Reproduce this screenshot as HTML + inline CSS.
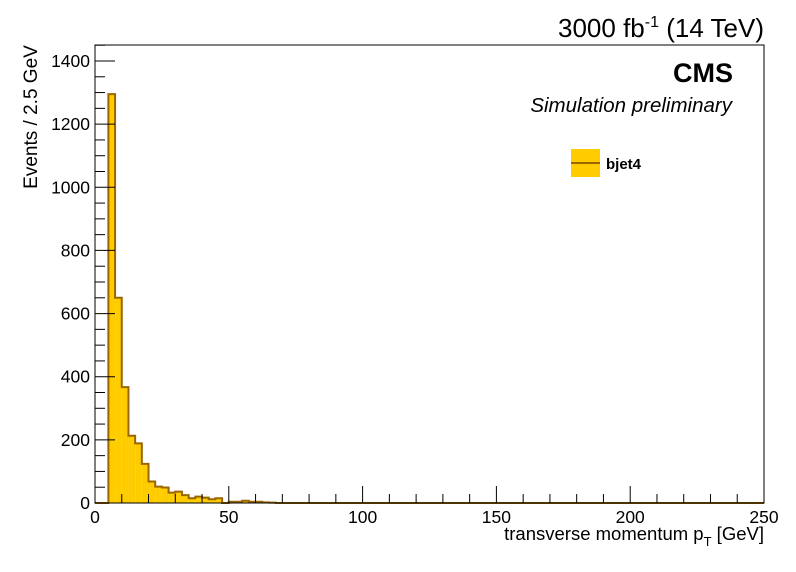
<!DOCTYPE html>
<html><head><meta charset="utf-8"><style>
body{margin:0;background:#fff;}
svg{display:block;font-family:"Liberation Sans",sans-serif;}
</style></head><body>
<svg id="chart" width="796" height="572" xmlns="http://www.w3.org/2000/svg">
<rect x="0" y="0" width="796" height="572" fill="#fff"/>
<g id="bars"></g>
<g id="axes"></g>
<rect x="95" y="45" width="669" height="458" fill="none" stroke="#000" stroke-width="1"/>
<text x="764" y="37" font-size="26" text-anchor="end">3000 fb<tspan dy="-10" font-size="16">-1</tspan><tspan dy="10"> (14 TeV)</tspan></text>
<text x="733" y="82" font-size="27" font-weight="bold" text-anchor="end">CMS</text>
<text x="732" y="112" font-size="20.5" font-style="italic" text-anchor="end">Simulation preliminary</text>
<g>
<rect x="571" y="149" width="29" height="28" fill="#ffcc00"/>
<line x1="571" y1="163" x2="600" y2="163" stroke="#996600" stroke-width="2"/>
<text x="606" y="169" font-size="15" font-weight="bold">bjet4</text>
</g>
<text x="764" y="540" font-size="18.5" text-anchor="end">transverse momentum p<tspan dy="6" font-size="13">T</tspan><tspan dy="-6"> [GeV]</tspan></text>
<text transform="translate(37,117) rotate(-90)" font-size="19" text-anchor="middle">Events / 2.5 GeV</text>
</svg>
<script>
const binWidth = 2.5;
const counts = [0,0,1295,650,367,213,189,124,68,52,49,33,36,25,15,20,17,12,15,0,4,4,7,4,4,2,1];
const xTicks = [0,50,100,150,200,250];
const yTicks = [0,200,400,600,800,1000,1200,1400];
const X0=95,X1=764,Y0=503,Y1=61;
const xs = v => X0 + (v/250)*(X1-X0);
const ys = v => Y0 - (v/1400)*(Y0-Y1);
const NS="http://www.w3.org/2000/svg";
const bars=document.getElementById('bars');
let d="M"+xs(0)+","+Y0;
counts.forEach((c,i)=>{
  const r=document.createElementNS(NS,'rect');
  r.setAttribute('x',xs(i*binWidth));r.setAttribute('y',ys(c));
  r.setAttribute('width',xs((i+1)*binWidth)-xs(i*binWidth));r.setAttribute('height',Y0-ys(c));
  r.setAttribute('fill','#ffcc00');
  
  
  bars.appendChild(r);
  d+=" L"+xs(i*binWidth)+","+ys(c)+" L"+xs((i+1)*binWidth)+","+ys(c);
});
d+=" L"+xs(counts.length*binWidth)+","+Y0+" L"+X1+","+Y0;
const p=document.createElementNS(NS,'path');
p.setAttribute('d',d);p.setAttribute('fill','none');p.setAttribute('stroke','#996600');p.setAttribute('stroke-width','2');


bars.appendChild(p);
const ax=document.getElementById('axes');
function line(x1,y1,x2,y2){const l=document.createElementNS(NS,'line');l.setAttribute('x1',x1);l.setAttribute('y1',y1);l.setAttribute('x2',x2);l.setAttribute('y2',y2);l.setAttribute('stroke','#000');ax.appendChild(l);return l;}
function text(x,y,s,anchor){const t=document.createElementNS(NS,'text');t.setAttribute('x',x);t.setAttribute('y',y);t.setAttribute('font-size','17.5');t.setAttribute('text-anchor',anchor);t.textContent=s;ax.appendChild(t);return t;}
for(let v=0;v<=250;v+=10){line(xs(v),Y0,xs(v),Y0-(v%50===0?17:9));}
xTicks.forEach(v=>{const t=text(xs(v),523,String(v),'middle');

});
for(let v=0;v<=1450;v+=50){if(ys(v)<45)break;line(X0,ys(v),X0+(v%200===0?20:10),ys(v));}
yTicks.forEach(v=>{const t=text(90,ys(v)+6,String(v),'end');

});
</script>
</body></html>
